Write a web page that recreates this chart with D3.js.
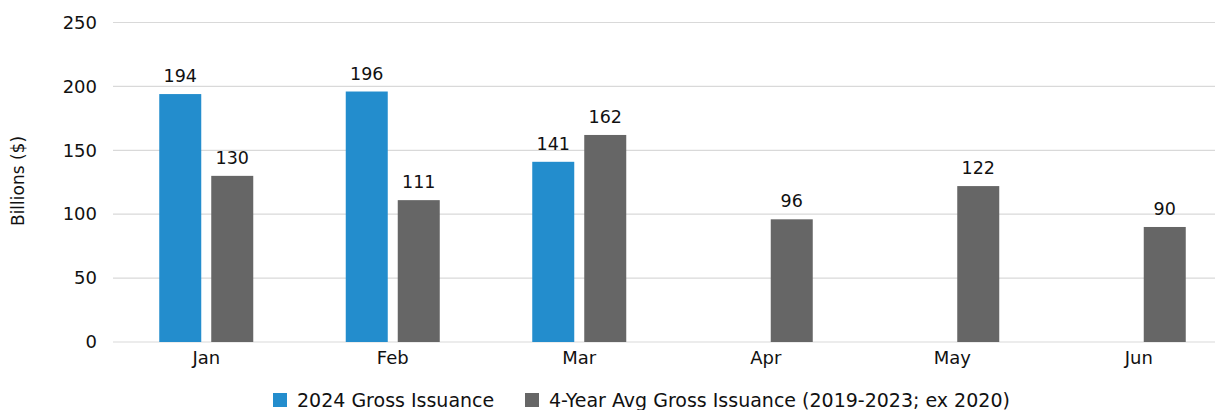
<!DOCTYPE html>
<html><head><meta charset="utf-8">
<script src="https://cdn.jsdelivr.net/npm/d3@7"></script>
<style>body{margin:0;background:#fff}svg{display:block}text{font-family:"DejaVu Sans",sans-serif;fill:#111}</style>
</head><body><svg id="c" width="1215" height="410"></svg>
<script>
const months = ["Jan","Feb","Mar","Apr","May","Jun"];
const seriesNames = ["2024 Gross Issuance","4-Year Avg Gross Issuance (2019-2023; ex 2020)"];
const issuance2024 = [194,196,141,null,null,null];
const avg4yr = [130,111,162,96,122,90];
const yTicks = [0,50,100,150,200,250];
const colors = ["#238dcd","#666666"];
const FONT = "'DejaVu Sans',sans-serif";

const svg = d3.select("#c");
const x = d3.scaleBand().domain(months).range([113,1232]);
const y = d3.scaleLinear().domain([0,250]).range([342,22.5]);
const barW = 42, gap = 10;

svg.append("g").selectAll("line").data(yTicks).join("line")
  .attr("x1",113).attr("x2",1215).attr("y1",d=>y(d)).attr("y2",d=>y(d))
  .attr("stroke","#d9d9d9").attr("stroke-width",1.2);

const yAxis = svg.append("g").attr("transform","translate(113,0)")
  .call(d3.axisLeft(y).tickValues(yTicks).tickSize(0).tickPadding(16));
yAxis.select(".domain").remove();
yAxis.selectAll("text").style("font-size","18px").attr("fill","#111").style("font-family",FONT);

const xAxis = svg.append("g").attr("transform","translate(0,342)")
  .call(d3.axisBottom(x).tickSize(0).tickPadding(9));
xAxis.select(".domain").remove();
xAxis.selectAll("text").style("font-size","18px").attr("fill","#111").style("font-family",FONT);

const series = [issuance2024, avg4yr];
series.forEach((vals,si)=>{
  const data = months.map((m,i)=>({m,v:vals[i]})).filter(d=>d.v!=null);
  const off = si===0 ? -(barW+gap/2) : gap/2;
  const g = svg.append("g");
  g.selectAll("rect").data(data).join("rect")
    .attr("x",d=>x(d.m)+x.bandwidth()/2+off).attr("width",barW)
    .attr("y",d=>y(d.v)).attr("height",d=>y(0)-y(d.v))
    .attr("fill",colors[si]);
  g.selectAll("text").data(data).join("text")
    .attr("x",d=>x(d.m)+x.bandwidth()/2+off+barW/2).attr("y",d=>y(d.v)-12)
    .attr("text-anchor","middle").style("font-size","17.5px").text(d=>d.v);
});

svg.append("text").attr("transform","translate(24,181) rotate(-90)")
  .attr("text-anchor","middle").style("font-size","17px").text("Billions ($)");

const legX = [273,525];
seriesNames.forEach((n,i)=>{
  svg.append("rect").attr("x",legX[i]).attr("y",393).attr("width",14).attr("height",14).attr("fill",colors[i]);
  svg.append("text").attr("x",legX[i]+24).attr("y",407).style("font-size","19px").text(n);
});
</script></body></html>
